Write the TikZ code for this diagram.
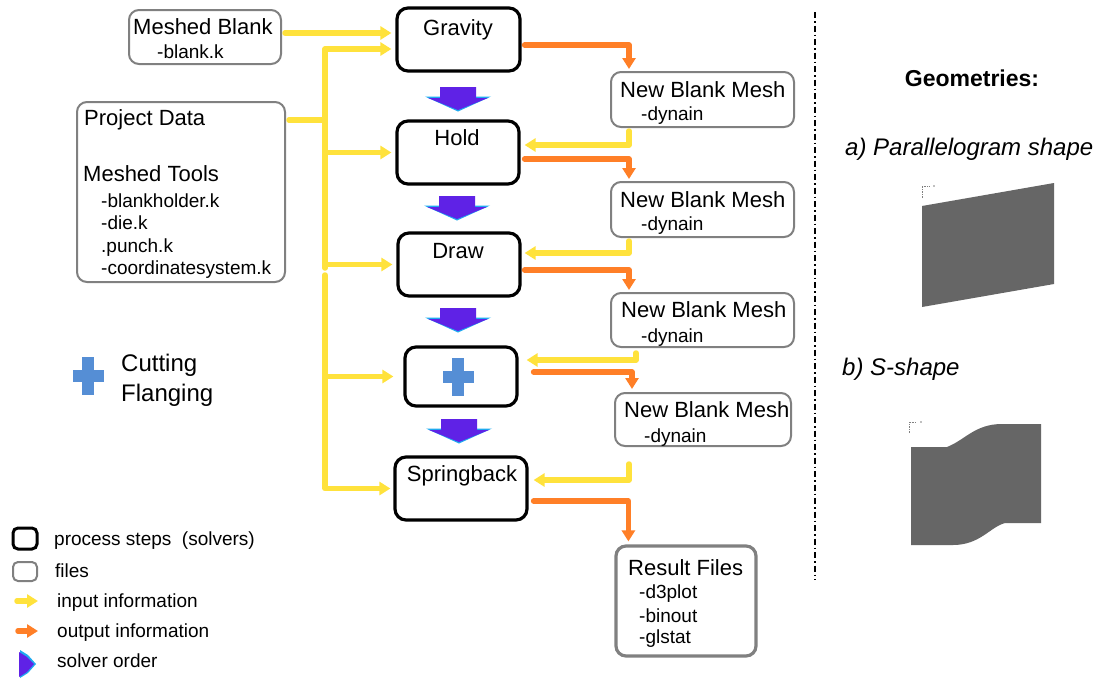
\documentclass[tikz,border=0pt]{standalone}
\usepackage{fontspec}
\setmainfont{Liberation Sans}
\usetikzlibrary{arrows.meta,calc}
\definecolor{ycol}{RGB}{255,226,60}
\definecolor{ocol}{RGB}{255,127,39}
\definecolor{pcol}{RGB}{95,34,230}
\definecolor{ccol}{RGB}{30,170,240}
\definecolor{fgray}{RGB}{128,128,128}
\definecolor{shapegray}{RGB}{102,102,102}
\definecolor{plusc}{RGB}{85,142,213}
\newcommand\ffMain{\fontsize{22}{26}\selectfont}
\newcommand\ffSub{\fontsize{19}{22}\selectfont}
\newcommand\ffLeg{\fontsize{19}{22}\selectfont}
\newcommand\ffCut{\fontsize{24}{28}\selectfont}
\newcommand\ffGeoB{\fontsize{23}{27}\selectfont\bfseries}
\newcommand\ffGeoI{\fontsize{24}{28}\selectfont\itshape}
\begin{document}
\begin{tikzpicture}[x=1pt,y=-1pt,
  proc/.style={draw=black, line width=3.2pt, rounded corners=11pt, inner sep=0pt},
  filebox/.style={draw=fgray, line width=2pt, rounded corners=10pt, inner sep=0pt},
  txt/.style={anchor=base west, inner sep=0pt, font=\ffMain},
  sub/.style={anchor=base west, inner sep=0pt, font=\ffSub},
  ctr/.style={anchor=base, inner sep=0pt, font=\ffMain},
  leg/.style={anchor=base west, inner sep=0pt, font=\ffLeg},
  yline/.style={draw=ycol, line width=5.5pt, line cap=round, line join=round},
  yarr/.style={yline, -{Triangle[width=13pt,length=11pt]}},
  oarr/.style={draw=ocol, line width=5.5pt, line cap=round, line join=round, -{Triangle[width=13pt,length=11pt]}},
  solver/.pic={
    \fill[ccol] (-33,9.5) -- (33,9.5) -- (0,24.5) -- cycle;
    \fill[pcol] (-18,0) -- (18,0) -- (18,11) -- (30,11) -- (0,23) -- (-30,11) -- (-18,11) -- cycle;
  },
  plussign/.pic={
    \fill[plusc] (-6,-19) rectangle (6,19);
    \fill[plusc] (-15.5,-6) rectangle (15.5,6);
  }
]
\fill[white] (0,0) rectangle (1107,678);
\useasboundingbox (0,0) rectangle (1107,678);

% file boxes
\node[filebox, minimum width=152pt, minimum height=54pt] (mb) at (205,37) {};
\node[filebox, minimum width=208pt, minimum height=180pt] (pd) at (181,192) {};
\node[filebox, minimum width=183pt, minimum height=55pt] (nbm1) at (702.5,99.5) {};
\node[filebox, minimum width=183pt, minimum height=55pt] (nbm2) at (702.5,209.5) {};
\node[filebox, minimum width=183pt, minimum height=54pt] (nbm3) at (702.5,320) {};
\node[filebox, minimum width=176pt, minimum height=53pt] (nbm4) at (703,419.5) {};
\node[filebox, line width=3.2pt, minimum width=140pt, minimum height=110pt] (res) at (686,601) {};

% process boxes
\node[proc, minimum width=123pt, minimum height=63pt] (grav) at (458.5,39.5) {};
\node[proc, minimum width=122pt, minimum height=63pt] (hold) at (458,152.5) {};
\node[proc, minimum width=122pt, minimum height=63pt] (draw) at (459,264.5) {};
\node[proc, minimum width=112pt, minimum height=59pt] (cut) at (461,376.5) {};
\node[proc, minimum width=132pt, minimum height=63pt] (spring) at (461,488.5) {};

% texts
\node[txt] (mbT) at (133,34) {Meshed Blank};
\node[sub] (mbS) at (157,58) {-blank.k};
\node[txt] (pdT) at (84,125) {Project Data};
\node[txt] (mtT) at (83,181) {Meshed Tools};
\node[sub] (mtA) at (101,207) {-blankholder.k};
\node[sub] (mtB) at (101,229) {-die.k};
\node[sub] (mtC) at (101,252) {.punch.k};
\node[sub] (mtD) at (101,274) {-coordinatesystem.k};
\node[ctr] (gravT) at (458,35) {Gravity};
\node[ctr] (holdT) at (457,145) {Hold};
\node[ctr] (drawT) at (458,258) {Draw};
\node[ctr] (springT) at (462,481) {Springback};
\pic at ($(cut.center)+(-3,0.5)$) {plussign};
\node[txt] (n1T) at (620,97) {New Blank Mesh};
\node[sub] (n1S) at (641,120) {-dynain};
\node[txt] (n2T) at (620,207) {New Blank Mesh};
\node[sub] (n2S) at (641,230) {-dynain};
\node[txt] (n3T) at (621,317) {New Blank Mesh};
\node[sub] (n3S) at (641,342) {-dynain};
\node[txt] (n4T) at (624,417) {New Blank Mesh};
\node[sub] (n4S) at (644,442) {-dynain};
\node[txt] (resT) at (628,575) {Result Files};
\node[sub] (resA) at (639,598) {-d3plot};
\node[sub] (resB) at (639,622) {-binout};
\node[sub] (resC) at (639,643) {-glstat};

% cutting / flanging
\pic at (88,375.5) {plussign};
\node[anchor=base west, inner sep=0pt, font=\ffCut] (cutT) at (121,371) {Cutting};
\node[anchor=base west, inner sep=0pt, font=\ffCut] (flT) at (121,401) {Flanging};

% solver order arrows
\pic at (458,87) {solver};
\pic at (457,196) {solver};
\pic at (458,308) {solver};
\pic at (459,419) {solver};

% yellow input connectors
\coordinate (ta) at (325,49);
\coordinate (tb) at (325,268);
\coordinate (tc) at (325,275);
\draw[yarr] ($(mb.east)+(3,-4)$) -- ($(grav.west)+(-4,-6.5)$);
\draw[yline] ($(pd.east)+(3,-72)$) -- (ta |- 0,120);
\draw[yarr] (tb) -- (ta) -- ($(grav.west)+(-4,9.5)$);
\draw[yarr] (ta |- hold.west) -- ($(hold.west)+(-4,0)$);
\draw[yarr] (ta |- draw.west) -- ($(draw.west)+(-4,0)$);
\draw[yarr] (tc) -- (tc |- spring.west) -- ($(spring.west)+(-3,0)$);
\draw[yarr] (tc |- cut.west) -- ($(cut.west)+(-10,0)$);

% outputs and new meshes
\draw[oarr] ($(grav.east)+(3,5.5)$) -| ($(nbm1.north west)+(19,-2)$);
\draw[yarr] ($(nbm1.south west)+(19,3)$) |- ($(hold.east)+(4,-7.5)$);
\draw[oarr] ($(hold.east)+(4,6.5)$) -| ($(nbm2.north west)+(19,-2)$);
\draw[yarr] ($(nbm2.south west)+(19,3)$) |- ($(draw.east)+(3,-11.5)$);
\draw[oarr] ($(draw.east)+(3,5.5)$) -| ($(nbm3.north west)+(19,-2)$);
\draw[yarr] ($(nbm3.south west)+(26,5)$) |- ($(cut.east)+(8,-16.5)$);
\draw[oarr] ($(cut.east)+(15,-4.5)$) -| ($(nbm4.north west)+(18,-3)$);
\draw[yarr] ($(nbm4.south west)+(15,17)$) |- ($(spring.east)+(5,-8.5)$);
\draw[oarr] ($(spring.east)+(5,12.5)$) -| ($(res.north west)+(14,-3)$);

% legend
\node[proc, line width=3pt, rounded corners=5pt, minimum width=24pt, minimum height=21pt] (lgP) at (25,538.5) {};
\node[filebox, rounded corners=5pt, minimum width=24pt, minimum height=19pt] (lgF) at (25,571.5) {};
\coordinate (lyA) at (17,601);
\coordinate (lyB) at (38,601);
\coordinate (loA) at (18,631);
\coordinate (loB) at (38,631);
\draw[yarr] (lyA) -- (lyB);
\draw[oarr] (loA) -- (loB);
\fill[ccol] (20,650) -- (28,655) -- (36,664) -- (28,673) -- (20,678) -- cycle;
\fill[pcol] (19,652) -- (27,657) -- (34,664) -- (27,672) -- (19,677) -- cycle;
\node[leg] (lgT1) at (54,545) {process steps\ \ (solvers)};
\node[leg] (lgT2) at (55,577) {files};
\node[leg] (lgT3) at (57,607) {input\ information};
\node[leg] (lgT4) at (57,637) {output\ information};
\node[leg] (lgT5) at (57,667) {solver\ order};

% separator
\coordinate (sepA) at (815,12);
\coordinate (sepB) at (815,580);
\draw[line width=2pt, dash pattern=on 6pt off 3pt on 1.5pt off 3pt] (sepA) -- (sepB);

% geometries
\node[anchor=base, inner sep=0pt, font=\ffGeoB] (geoT) at (972,86) {Geometries:};
\node[anchor=base west, inner sep=0pt, font=\ffGeoI] (geoA) at (845,155) {a) Parallelogram shape};
\node[anchor=base west, inner sep=0pt, font=\ffGeoI] (geoB) at (842,375) {b) S-shape};
\fill[shapegray] (922,206) -- (1054,183) -- (1054,284) -- (922,307) -- cycle;
\draw[gray, line width=0.7pt, densely dotted] (922,198) -- (922,186) -- (930,186);
\fill[gray] (934,186) circle (0.9);
\fill[shapegray] (911,447) -- (947,447) .. controls (965,440) and (975,424) .. (1002,424)
  -- (1041,424) -- (1041,523) -- (1005,523) .. controls (990,527) and (980,545) .. (953,545)
  -- (911,545) -- cycle;
\draw[gray, line width=0.7pt, densely dotted] (909,433) -- (909,422) -- (916,422);
\fill[gray] (921,422) circle (0.9);
\end{tikzpicture}
\end{document}
